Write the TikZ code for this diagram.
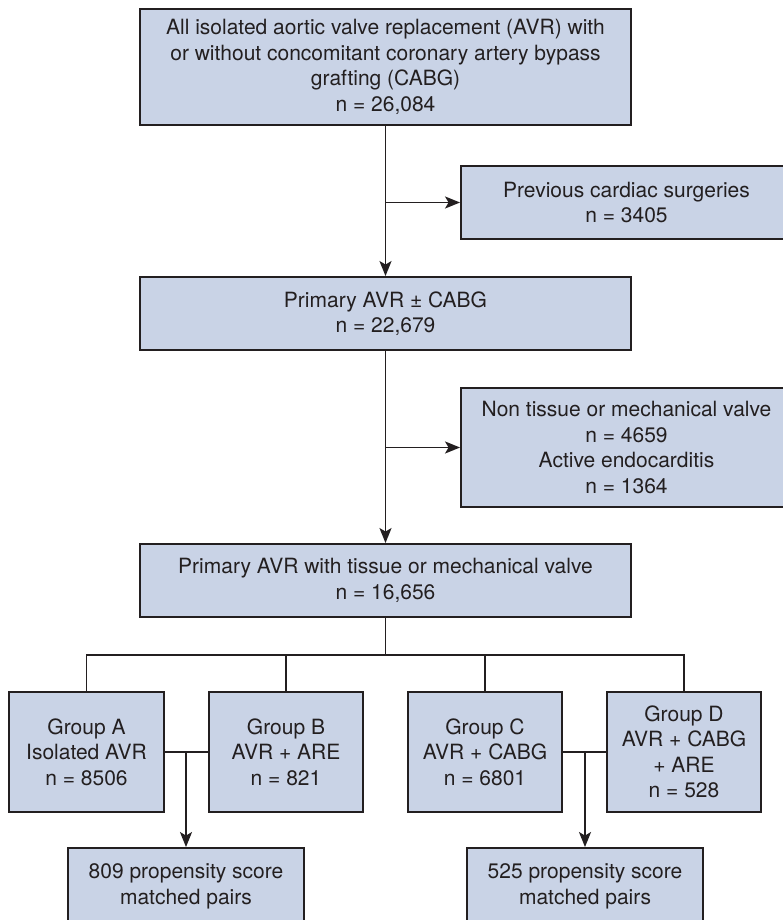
\documentclass[tikz,border=0pt]{standalone}
\usepackage{fontspec}
\setmainfont{TeX Gyre Heros}
\usetikzlibrary{arrows.meta}
\definecolor{boxfill}{RGB}{201,211,230}
\definecolor{ink}{RGB}{35,31,32}
\begin{document}
\begin{tikzpicture}[x=1pt,y=-1pt,
  box/.style={draw=ink, fill=boxfill, line width=1.9pt, align=center, inner sep=0pt,
    text=ink, font=\fontsize{21}{25.5}\selectfont},
  conn/.style={draw=ink, line width=1.9pt},
  arr/.style={conn, -{Stealth[length=15pt,width=12pt,inset=3.5pt]}}]
\clip (0,0) rectangle (783,920);
\fill[white] (0,0) rectangle (783,920);

\node[box, minimum width=491pt, minimum height=116pt] (b1) at (385.5,67)
  {All isolated aortic valve replacement (AVR) with\\or without concomitant coronary artery bypass\\grafting (CABG)\\n = 26,084};
\node[box, minimum width=331pt, minimum height=73pt] (b2) at (626.5,202.5)
  {Previous cardiac surgeries\\n = 3405};
\node[box, minimum width=491pt, minimum height=73pt] (b3) at (385.5,313.5)
  {Primary AVR ± CABG\\n = 22,679};
\node[box, minimum width=331pt, minimum height=119pt] (b4) at (626.5,447.5)
  {Non tissue or mechanical valve\\n = 4659\\Active endocarditis\\n = 1364};
\node[box, minimum width=491pt, minimum height=73pt] (b5) at (385.5,580.5)
  {Primary AVR with tissue or mechanical valve\\n = 16,656};

\node[box, minimum width=155pt, minimum height=120pt] (gA) at (86.5,752)
  {Group A\\Isolated AVR\\n = 8506};
\node[box, minimum width=154pt, minimum height=120pt] (gB) at (286,752)
  {Group B\\AVR + ARE\\n = 821};
\node[box, minimum width=154pt, minimum height=120pt] (gC) at (485,752)
  {Group C\\AVR + CABG\\n = 6801};
\node[box, minimum width=154pt, minimum height=120pt] (gD) at (684,752)
  {Group D\\AVR + CABG\\+ ARE\\n = 528};

\node[box, minimum width=236pt, minimum height=77pt] (p1) at (186,886.5)
  {809 propensity score\\matched pairs};
\node[box, minimum width=236pt, minimum height=77pt] (p2) at (585,886.5)
  {525 propensity score\\matched pairs};

\draw[arr] (b1.south) -- (b3.north);
\draw[arr] (b1.south |- b2.west) -- (b2.west);
\draw[arr] (b3.south) -- (b5.north);
\draw[arr] (b3.south |- b4.west) -- (b4.west);

\coordinate (bus) at (385.5,655);
\draw[conn] (b5.south) -- (bus);
\draw[conn] (gA.north) -- (gA.north |- bus) -- (gD.north |- bus) -- (gD.north);
\draw[conn] (gB.north) -- (gB.north |- bus);
\draw[conn] (gC.north) -- (gC.north |- bus);

\draw[conn] (gA.east) -- (gB.west);
\draw[arr] (p1.north |- gA.east) -- (p1.north);
\draw[conn] (gC.east) -- (gD.west);
\draw[arr] (p2.north |- gC.east) -- (p2.north);
\end{tikzpicture}
\end{document}
